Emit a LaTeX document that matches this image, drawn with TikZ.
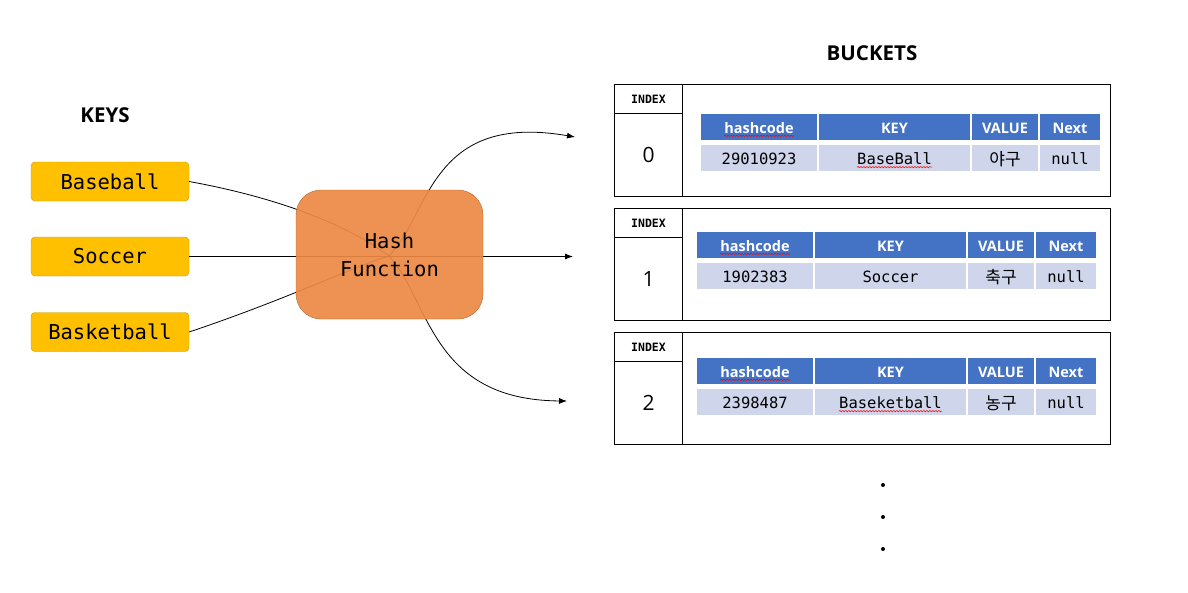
\documentclass[tikz,border=0pt]{standalone}
\usepackage{fontspec}
\setmainfont{Open Sans}
\newfontfamily\monof{DejaVu Sans Mono}
\newfontfamily\krf{Noto Sans CJK KR}
\usetikzlibrary{arrows.meta,decorations.pathmorphing}
\definecolor{keyfill}{HTML}{FFC000}
\definecolor{keydraw}{HTML}{C49A00}
\definecolor{hashfill}{HTML}{ED8944}
\definecolor{hashdraw}{HTML}{B5642A}
\definecolor{hdrblue}{HTML}{4472C4}
\definecolor{datafill}{HTML}{CFD5EA}
\begin{document}
\begin{tikzpicture}[x=1pt,y=-1pt,
  title/.style={font=\bfseries\fontsize{20.5}{24}\selectfont},
  keybox/.style={draw=keydraw,fill=keyfill,rounded corners=4pt,minimum width=158pt,minimum height=39pt,inner sep=0pt,font=\monof\fontsize{20.5}{24}\selectfont},
  hashbox/.style={draw=hashdraw,fill=hashfill,fill opacity=0.92,text opacity=1,rounded corners=25pt,minimum width=187pt,minimum height=129pt,align=center,font=\monof\fontsize{20.5}{28}\selectfont},
  conn/.style={line width=0.8pt,-{Latex[length=8pt,width=6pt]}},
  frame/.style={draw=black,line width=1pt,anchor=north west,inner sep=0pt},
  hcell/.style={fill=hdrblue,draw=white,line width=1.5pt,minimum height=28pt,inner sep=0pt},
  dcell/.style={fill=datafill,draw=white,line width=1.5pt,minimum height=28pt,inner sep=0pt},
  htxt/.style={inner sep=0pt,text=white,font=\bfseries\fontsize{14.5}{17}\selectfont,text height=10.6pt,text depth=0pt,yshift=-1pt},
  dtxt/.style={inner sep=0pt,font=\monof\fontsize{15.5}{18}\selectfont,text height=11.3pt,text depth=0pt,yshift=-1pt},
  ktxt/.style={inner sep=0pt,font=\krf\fontsize{17}{20}\selectfont,text height=13pt,text depth=0pt,yshift=-1pt},
  squig/.style={draw=red,line width=0.5pt,decorate,decoration={snake,amplitude=0.7pt,segment length=3pt}},
  dot/.style={circle,fill=black,inner sep=0pt,minimum size=4pt}
]
\useasboundingbox (0,0) rectangle (1188,592);

% titles
\node[title] (keys) at (105,115) {KEYS};
\node[title] (buckets) at (872,53) {BUCKETS};

% keys
\node[keybox] (kb) at (110,181.5) {Baseball};
\node[keybox] (ks) at (110,256.5) {Soccer};
\node[keybox] (kk) at (110,332) {Basketball};

% connectors
\coordinate (hc) at (389,256);
\coordinate (a0) at (575,137);
\coordinate (a1) at (573,256.5);
\coordinate (a2) at (567,401);
\draw[conn] (kb.east) .. controls (285,199) and (350,227) .. (hc) .. controls (430,214) and (430,112) .. (a0);
\draw[conn] (ks.east) -- (a1);
\draw[conn] (kk.east) .. controls (290,298) and (350,268) .. (hc) .. controls (430,300) and (430,400) .. (a2);

% hash function
\node[hashbox] (hf) at (389.5,254.5) {Hash\\Function};

% buckets
\foreach \i/\t/\tx/\hy/\hash/\key/\val in {0/84/700/113/29010923/BaseBall/야구,1/208/696/231/1902383/Soccer/축구,2/332/696/357/2398487/Baseketball/농구}{
  \node[frame,minimum width=428pt,minimum height=112pt] (bx\i) at (682,\t) {};
  \node[frame,minimum width=68pt,minimum height=29pt,font=\monof\bfseries\fontsize{11.5}{13}\selectfont] (ih\i) at (614,\t) {INDEX};
  \node[frame,minimum width=68pt,minimum height=83pt,font=\fontsize{21}{24}\selectfont] (in\i) at (614,\t+29) {\i};
  % header row
  \node[hcell,minimum width=118pt] (hA\i) at (\tx+59,\hy+14) {};
  \node[hcell,minimum width=153pt] (hB\i) at (\tx+194.5,\hy+14) {};
  \node[hcell,minimum width=68pt] (hC\i) at (\tx+305,\hy+14) {};
  \node[hcell,minimum width=62pt] (hD\i) at (\tx+370,\hy+14) {};
  \node[htxt] (tA\i) at (hA\i) {hashcode};
  \node[htxt] (tB\i) at (hB\i) {KEY};
  \node[htxt] (tC\i) at (hC\i) {VALUE};
  \node[htxt] (tD\i) at (hD\i) {Next};
  \draw[squig] ([yshift=-2.5pt]tA\i.base west) -- ([yshift=-2.5pt]tA\i.base east);
  % data row
  \node[dcell,minimum width=118pt] (dA\i) at (\tx+59,\hy+45) {};
  \node[dcell,minimum width=153pt] (dB\i) at (\tx+194.5,\hy+45) {};
  \node[dcell,minimum width=68pt] (dC\i) at (\tx+305,\hy+45) {};
  \node[dcell,minimum width=62pt] (dD\i) at (\tx+370,\hy+45) {};
  \node[dtxt] (vA\i) at (dA\i) {\hash};
  \node[dtxt] (vB\i) at (dB\i) {\key};
  \node[ktxt] (vC\i) at (dC\i) {\val};
  \node[dtxt] (vD\i) at (dD\i) {null};
}
\draw[squig] ([yshift=-2.5pt]vB0.base west) -- ([yshift=-2.5pt]vB0.base east);
\draw[squig] ([yshift=-2.5pt]vB2.base west) -- ([yshift=-2.5pt]vB2.base east);

% ellipsis dots
\node[dot] (d1) at (883,485) {};
\node[dot] (d2) at (883,517) {};
\node[dot] (d3) at (883,549) {};
\end{tikzpicture}
\end{document}
